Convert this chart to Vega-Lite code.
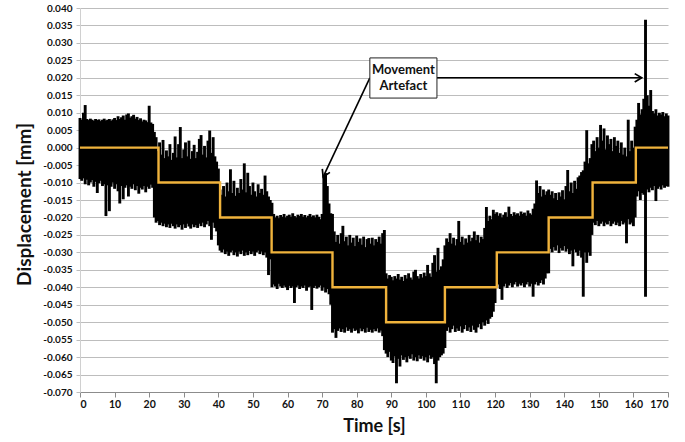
{
  "$schema": "https://vega.github.io/schema/vega-lite/v6.json",
  "width": 588,
  "height": 384,
  "autosize": {"type": "none"},
  "padding": {"left": 80, "top": 8, "right": 17, "bottom": 50},
  "background": "white",
  "config": {"view": {"stroke": null}, "font": "Lato"},
  "datasets": {
    "noise": [
      {"t":0,"v":-0.0090,"v2":0.0085},{"t":0.5,"v":-0.0095,"v2":0.0080},{"t":1,"v":-0.0088,"v2":0.0100},{"t":1.5,"v":-0.0105,"v2":0.0122},{"t":2,"v":-0.0092,"v2":0.0082},{"t":2.5,"v":-0.0108,"v2":0.0079},{"t":3,"v":-0.0100,"v2":0.0083},{"t":3.5,"v":-0.0093,"v2":0.0080},{"t":4,"v":-0.0112,"v2":0.0077},{"t":4.5,"v":-0.0098,"v2":0.0082},
      {"t":5,"v":-0.0130,"v2":0.0079},{"t":5.5,"v":-0.0102,"v2":0.0081},{"t":6,"v":-0.0095,"v2":0.0076},{"t":6.5,"v":-0.0110,"v2":0.0080},{"t":7,"v":-0.0105,"v2":0.0083},{"t":7.5,"v":-0.0196,"v2":0.0078},{"t":8,"v":-0.0108,"v2":0.0080},{"t":8.5,"v":-0.0182,"v2":0.0082},{"t":9,"v":-0.0112,"v2":0.0077},{"t":9.5,"v":-0.0100,"v2":0.0081},
      {"t":10,"v":-0.0118,"v2":0.0085},{"t":10.5,"v":-0.0105,"v2":0.0079},{"t":11,"v":-0.0125,"v2":0.0090},{"t":11.5,"v":-0.0160,"v2":0.0082},{"t":12,"v":-0.0110,"v2":0.0087},{"t":12.5,"v":-0.0148,"v2":0.0092},{"t":13,"v":-0.0115,"v2":0.0080},{"t":13.5,"v":-0.0108,"v2":0.0095},{"t":14,"v":-0.0140,"v2":0.0098},{"t":14.5,"v":-0.0112,"v2":0.0086},
      {"t":15,"v":-0.0118,"v2":0.0090},{"t":15.5,"v":-0.0105,"v2":0.0094},{"t":16,"v":-0.0122,"v2":0.0083},{"t":16.5,"v":-0.0110,"v2":0.0088},{"t":17,"v":-0.0132,"v2":0.0079},{"t":17.5,"v":-0.0115,"v2":0.0084},{"t":18,"v":-0.0120,"v2":0.0075},{"t":18.5,"v":-0.0110,"v2":0.0080},{"t":19,"v":-0.0128,"v2":0.0078},{"t":19.5,"v":-0.0112,"v2":0.0073},
      {"t":20,"v":-0.0118,"v2":0.0120},{"t":20.5,"v":-0.0106,"v2":0.0072},{"t":21,"v":-0.0115,"v2":0.0068},{"t":21.5,"v":-0.0200,"v2":0.0045},{"t":22,"v":-0.0215,"v2":0.0030},
      {"t":22.5,"v":-0.0210,"v2":-0.0010},{"t":23,"v":-0.0222,"v2":0.0015},{"t":23.5,"v":-0.0215,"v2":-0.0020},{"t":24,"v":-0.0225,"v2":0.0022},{"t":24.5,"v":-0.0218,"v2":-0.0030},{"t":25,"v":-0.0228,"v2":-0.0008},{"t":25.5,"v":-0.0220,"v2":-0.0025},{"t":26,"v":-0.0230,"v2":0.0010},{"t":26.5,"v":-0.0218,"v2":-0.0035},{"t":27,"v":-0.0225,"v2":-0.0015},
      {"t":27.5,"v":-0.0232,"v2":0.0032},{"t":28,"v":-0.0220,"v2":-0.0028},{"t":28.5,"v":-0.0228,"v2":0.0010},{"t":29,"v":-0.0222,"v2":0.0059},{"t":29.5,"v":-0.0235,"v2":-0.0030},{"t":30,"v":-0.0220,"v2":-0.0005},{"t":30.5,"v":-0.0230,"v2":0.0015},{"t":31,"v":-0.0218,"v2":-0.0025},{"t":31.5,"v":-0.0226,"v2":0.0020},{"t":32,"v":-0.0232,"v2":-0.0032},
      {"t":32.5,"v":-0.0220,"v2":-0.0010},{"t":33,"v":-0.0228,"v2":0.0008},{"t":33.5,"v":-0.0222,"v2":-0.0030},{"t":34,"v":-0.0230,"v2":-0.0012},{"t":34.5,"v":-0.0218,"v2":0.0025},{"t":35,"v":-0.0225,"v2":0.0036},{"t":35.5,"v":-0.0215,"v2":-0.0020},{"t":36,"v":-0.0228,"v2":0.0005},{"t":36.5,"v":-0.0220,"v2":-0.0028},{"t":37,"v":-0.0210,"v2":0.0020},
      {"t":37.5,"v":-0.0225,"v2":0.0049},{"t":38,"v":-0.0264,"v2":-0.0015},{"t":38.5,"v":-0.0215,"v2":0.0030},{"t":39,"v":-0.0230,"v2":-0.0025},{"t":39.5,"v":-0.0240,"v2":-0.0040},{"t":40,"v":-0.0280,"v2":-0.0060},
      {"t":40.5,"v":-0.0295,"v2":-0.0120},{"t":41,"v":-0.0300,"v2":-0.0135},{"t":41.5,"v":-0.0292,"v2":-0.0110},{"t":42,"v":-0.0305,"v2":-0.0140},{"t":42.5,"v":-0.0298,"v2":-0.0100},{"t":43,"v":-0.0310,"v2":-0.0125},{"t":43.5,"v":-0.0300,"v2":-0.0062},{"t":44,"v":-0.0295,"v2":-0.0130},{"t":44.5,"v":-0.0308,"v2":-0.0095},{"t":45,"v":-0.0300,"v2":-0.0138},
      {"t":45.5,"v":-0.0312,"v2":-0.0115},{"t":46,"v":-0.0298,"v2":-0.0130},{"t":46.5,"v":-0.0305,"v2":-0.0090},{"t":47,"v":-0.0295,"v2":-0.0120},{"t":47.5,"v":-0.0310,"v2":-0.0045},{"t":48,"v":-0.0300,"v2":-0.0128},{"t":48.5,"v":-0.0308,"v2":-0.0072},{"t":49,"v":-0.0296,"v2":-0.0110},{"t":49.5,"v":-0.0305,"v2":-0.0135},{"t":50,"v":-0.0298,"v2":-0.0100},
      {"t":50.5,"v":-0.0310,"v2":-0.0125},{"t":51,"v":-0.0300,"v2":-0.0140},{"t":51.5,"v":-0.0295,"v2":-0.0105},{"t":52,"v":-0.0305,"v2":-0.0130},{"t":52.5,"v":-0.0298,"v2":-0.0118},{"t":53,"v":-0.0308,"v2":-0.0135},{"t":53.5,"v":-0.0300,"v2":-0.0080},{"t":54,"v":-0.0315,"v2":-0.0125},{"t":54.5,"v":-0.0365,"v2":-0.0140},{"t":55,"v":-0.0320,"v2":-0.0150},
      {"t":55.5,"v":-0.0400,"v2":-0.0158},{"t":56,"v":-0.0392,"v2":-0.0190},{"t":56.5,"v":-0.0398,"v2":-0.0200},{"t":57,"v":-0.0405,"v2":-0.0195},{"t":57.5,"v":-0.0390,"v2":-0.0202},{"t":58,"v":-0.0398,"v2":-0.0193},{"t":58.5,"v":-0.0402,"v2":-0.0198},{"t":59,"v":-0.0395,"v2":-0.0190},{"t":59.5,"v":-0.0400,"v2":-0.0200},{"t":60,"v":-0.0408,"v2":-0.0195},
      {"t":60.5,"v":-0.0396,"v2":-0.0192},{"t":61,"v":-0.0402,"v2":-0.0198},{"t":61.5,"v":-0.0398,"v2":-0.0188},{"t":62,"v":-0.0445,"v2":-0.0196},{"t":62.5,"v":-0.0400,"v2":-0.0200},{"t":63,"v":-0.0395,"v2":-0.0192},{"t":63.5,"v":-0.0405,"v2":-0.0196},{"t":64,"v":-0.0398,"v2":-0.0190},{"t":64.5,"v":-0.0402,"v2":-0.0198},{"t":65,"v":-0.0395,"v2":-0.0193},
      {"t":65.5,"v":-0.0410,"v2":-0.0200},{"t":66,"v":-0.0400,"v2":-0.0195},{"t":66.5,"v":-0.0398,"v2":-0.0190},{"t":67,"v":-0.0465,"v2":-0.0198},{"t":67.5,"v":-0.0402,"v2":-0.0194},{"t":68,"v":-0.0396,"v2":-0.0200},{"t":68.5,"v":-0.0404,"v2":-0.0192},{"t":69,"v":-0.0400,"v2":-0.0198},{"t":69.5,"v":-0.0395,"v2":-0.0205},{"t":70,"v":-0.0410,"v2":-0.0190},
      {"t":70.5,"v":-0.0400,"v2":-0.0078},{"t":71,"v":-0.0415,"v2":-0.0073},{"t":71.5,"v":-0.0405,"v2":-0.0110},{"t":72,"v":-0.0420,"v2":-0.0160},{"t":72.5,"v":-0.0450,"v2":-0.0188},
      {"t":73,"v":-0.0530,"v2":-0.0190},{"t":73.5,"v":-0.0520,"v2":-0.0240},{"t":74,"v":-0.0545,"v2":-0.0270},{"t":74.5,"v":-0.0525,"v2":-0.0250},{"t":75,"v":-0.0518,"v2":-0.0275},{"t":75.5,"v":-0.0528,"v2":-0.0245},{"t":76,"v":-0.0520,"v2":-0.0224},{"t":76.5,"v":-0.0530,"v2":-0.0268},{"t":77,"v":-0.0515,"v2":-0.0255},{"t":77.5,"v":-0.0525,"v2":-0.0280},
      {"t":78,"v":-0.0520,"v2":-0.0250},{"t":78.5,"v":-0.0530,"v2":-0.0272},{"t":79,"v":-0.0518,"v2":-0.0258},{"t":79.5,"v":-0.0525,"v2":-0.0282},{"t":80,"v":-0.0522,"v2":-0.0252},{"t":80.5,"v":-0.0532,"v2":-0.0270},{"t":81,"v":-0.0518,"v2":-0.0260},{"t":81.5,"v":-0.0526,"v2":-0.0278},{"t":82,"v":-0.0520,"v2":-0.0255},{"t":82.5,"v":-0.0530,"v2":-0.0285},
      {"t":83,"v":-0.0516,"v2":-0.0262},{"t":83.5,"v":-0.0528,"v2":-0.0259},{"t":84,"v":-0.0522,"v2":-0.0275},{"t":84.5,"v":-0.0530,"v2":-0.0258},{"t":85,"v":-0.0520,"v2":-0.0280},{"t":85.5,"v":-0.0526,"v2":-0.0262},{"t":86,"v":-0.0518,"v2":-0.0270},{"t":86.5,"v":-0.0530,"v2":-0.0255},{"t":87,"v":-0.0524,"v2":-0.0275},{"t":87.5,"v":-0.0540,"v2":-0.0245},
      {"t":88,"v":-0.0580,"v2":-0.0236},
      {"t":88.5,"v":-0.0590,"v2":-0.0360},{"t":89,"v":-0.0600,"v2":-0.0375},{"t":89.5,"v":-0.0585,"v2":-0.0365},{"t":90,"v":-0.0610,"v2":-0.0370},{"t":90.5,"v":-0.0617,"v2":-0.0380},{"t":91,"v":-0.0598,"v2":-0.0368},{"t":91.5,"v":-0.0675,"v2":-0.0375},{"t":92,"v":-0.0605,"v2":-0.0362},{"t":92.5,"v":-0.0627,"v2":-0.0378},{"t":93,"v":-0.0595,"v2":-0.0370},
      {"t":93.5,"v":-0.0608,"v2":-0.0382},{"t":94,"v":-0.0600,"v2":-0.0365},{"t":94.5,"v":-0.0615,"v2":-0.0375},{"t":95,"v":-0.0598,"v2":-0.0360},{"t":95.5,"v":-0.0605,"v2":-0.0372},{"t":96,"v":-0.0592,"v2":-0.0378},{"t":96.5,"v":-0.0610,"v2":-0.0355},{"t":97,"v":-0.0600,"v2":-0.0350},{"t":97.5,"v":-0.0612,"v2":-0.0368},{"t":98,"v":-0.0595,"v2":-0.0375},
      {"t":98.5,"v":-0.0605,"v2":-0.0362},{"t":99,"v":-0.0598,"v2":-0.0372},{"t":99.5,"v":-0.0610,"v2":-0.0358},{"t":100,"v":-0.0600,"v2":-0.0368},{"t":100.5,"v":-0.0615,"v2":-0.0336},{"t":101,"v":-0.0595,"v2":-0.0360},{"t":101.5,"v":-0.0605,"v2":-0.0370},{"t":102,"v":-0.0600,"v2":-0.0330},{"t":102.5,"v":-0.0620,"v2":-0.0308},{"t":103,"v":-0.0675,"v2":-0.0355},
      {"t":103.5,"v":-0.0610,"v2":-0.0287},{"t":104,"v":-0.0600,"v2":-0.0350},{"t":104.5,"v":-0.0595,"v2":-0.0340},{"t":105,"v":-0.0590,"v2":-0.0320},{"t":105.5,"v":-0.0574,"v2":-0.0280},
      {"t":106,"v":-0.0525,"v2":-0.0260},{"t":106.5,"v":-0.0515,"v2":-0.0270},{"t":107,"v":-0.0530,"v2":-0.0245},{"t":107.5,"v":-0.0520,"v2":-0.0275},{"t":108,"v":-0.0510,"v2":-0.0258},{"t":108.5,"v":-0.0528,"v2":-0.0280},{"t":109,"v":-0.0518,"v2":-0.0262},{"t":109.5,"v":-0.0525,"v2":-0.0210},{"t":110,"v":-0.0512,"v2":-0.0270},{"t":110.5,"v":-0.0530,"v2":-0.0255},
      {"t":111,"v":-0.0520,"v2":-0.0278},{"t":111.5,"v":-0.0508,"v2":-0.0260},{"t":112,"v":-0.0525,"v2":-0.0272},{"t":112.5,"v":-0.0515,"v2":-0.0250},{"t":113,"v":-0.0528,"v2":-0.0268},{"t":113.5,"v":-0.0510,"v2":-0.0258},{"t":114,"v":-0.0522,"v2":-0.0240},{"t":114.5,"v":-0.0530,"v2":-0.0265},{"t":115,"v":-0.0515,"v2":-0.0250},{"t":115.5,"v":-0.0505,"v2":-0.0272},
      {"t":116,"v":-0.0520,"v2":-0.0255},{"t":116.5,"v":-0.0500,"v2":-0.0262},{"t":117,"v":-0.0510,"v2":-0.0230},{"t":117.5,"v":-0.0495,"v2":-0.0170},{"t":118,"v":-0.0505,"v2":-0.0210},{"t":118.5,"v":-0.0490,"v2":-0.0195},{"t":119,"v":-0.0485,"v2":-0.0205},{"t":119.5,"v":-0.0470,"v2":-0.0178},{"t":120,"v":-0.0445,"v2":-0.0190},
      {"t":120.5,"v":-0.0400,"v2":-0.0185},{"t":121,"v":-0.0392,"v2":-0.0195},{"t":121.5,"v":-0.0405,"v2":-0.0188},{"t":122,"v":-0.0436,"v2":-0.0200},{"t":122.5,"v":-0.0398,"v2":-0.0192},{"t":123,"v":-0.0390,"v2":-0.0185},{"t":123.5,"v":-0.0402,"v2":-0.0198},{"t":124,"v":-0.0395,"v2":-0.0169},{"t":124.5,"v":-0.0388,"v2":-0.0190},{"t":125,"v":-0.0400,"v2":-0.0196},
      {"t":125.5,"v":-0.0392,"v2":-0.0185},{"t":126,"v":-0.0385,"v2":-0.0192},{"t":126.5,"v":-0.0398,"v2":-0.0188},{"t":127,"v":-0.0390,"v2":-0.0195},{"t":127.5,"v":-0.0395,"v2":-0.0183},{"t":128,"v":-0.0388,"v2":-0.0190},{"t":128.5,"v":-0.0400,"v2":-0.0186},{"t":129,"v":-0.0392,"v2":-0.0195},{"t":129.5,"v":-0.0385,"v2":-0.0180},{"t":130,"v":-0.0398,"v2":-0.0188},
      {"t":130.5,"v":-0.0390,"v2":-0.0192},{"t":131,"v":-0.0427,"v2":-0.0175},{"t":131.5,"v":-0.0392,"v2":-0.0160},{"t":132,"v":-0.0385,"v2":-0.0094},{"t":132.5,"v":-0.0395,"v2":-0.0130},{"t":133,"v":-0.0388,"v2":-0.0110},{"t":133.5,"v":-0.0380,"v2":-0.0140},{"t":134,"v":-0.0392,"v2":-0.0120},{"t":134.5,"v":-0.0375,"v2":-0.0135},{"t":135,"v":-0.0360,"v2":-0.0125},
      {"t":135.5,"v":-0.0360,"v2":-0.0120},{"t":136,"v":-0.0290,"v2":-0.0135},{"t":136.5,"v":-0.0300,"v2":-0.0125},{"t":137,"v":-0.0285,"v2":-0.0145},{"t":137.5,"v":-0.0295,"v2":-0.0130},{"t":138,"v":-0.0280,"v2":-0.0150},{"t":138.5,"v":-0.0302,"v2":-0.0128},{"t":139,"v":-0.0288,"v2":-0.0140},{"t":139.5,"v":-0.0295,"v2":-0.0122},{"t":140,"v":-0.0282,"v2":-0.0148},
      {"t":140.5,"v":-0.0298,"v2":-0.0110},{"t":141,"v":-0.0290,"v2":-0.0064},{"t":141.5,"v":-0.0305,"v2":-0.0125},{"t":142,"v":-0.0295,"v2":-0.0100},{"t":142.5,"v":-0.0340,"v2":-0.0130},{"t":143,"v":-0.0292,"v2":-0.0095},{"t":143.5,"v":-0.0300,"v2":-0.0118},{"t":144,"v":-0.0310,"v2":-0.0085},{"t":144.5,"v":-0.0295,"v2":-0.0080},{"t":145,"v":-0.0315,"v2":-0.0070},
      {"t":145.5,"v":-0.0427,"v2":-0.0065},{"t":146,"v":-0.0300,"v2":-0.0040},{"t":146.5,"v":-0.0330,"v2":0.0050},{"t":147,"v":-0.0300,"v2":-0.0045},{"t":147.5,"v":-0.0310,"v2":-0.0030},{"t":148,"v":-0.0250,"v2":0.0010},
      {"t":148.5,"v":-0.0215,"v2":0.0020},{"t":149,"v":-0.0222,"v2":-0.0010},{"t":149.5,"v":-0.0210,"v2":0.0030},{"t":150,"v":-0.0225,"v2":0.0000},{"t":150.5,"v":-0.0218,"v2":0.0065},{"t":151,"v":-0.0212,"v2":0.0020},{"t":151.5,"v":-0.0225,"v2":0.0055},{"t":152,"v":-0.0215,"v2":-0.0005},{"t":152.5,"v":-0.0220,"v2":0.0035},{"t":153,"v":-0.0210,"v2":0.0010},
      {"t":153.5,"v":-0.0225,"v2":0.0025},{"t":154,"v":-0.0218,"v2":-0.0010},{"t":154.5,"v":-0.0212,"v2":0.0030},{"t":155,"v":-0.0222,"v2":0.0005},{"t":155.5,"v":-0.0215,"v2":0.0020},{"t":156,"v":-0.0225,"v2":-0.0015},{"t":156.5,"v":-0.0210,"v2":0.0015},{"t":157,"v":-0.0220,"v2":-0.0020},{"t":157.5,"v":-0.0215,"v2":0.0000},{"t":158,"v":-0.0274,"v2":-0.0025},
      {"t":158.5,"v":-0.0205,"v2":0.0080},{"t":159,"v":-0.0220,"v2":-0.0010},{"t":159.5,"v":-0.0215,"v2":0.0020},{"t":160,"v":-0.0225,"v2":0.0000},{"t":160.5,"v":-0.0200,"v2":0.0060},
      {"t":161,"v":-0.0140,"v2":0.0080},{"t":161.5,"v":-0.0125,"v2":0.0128},{"t":162,"v":-0.0150,"v2":0.0095},{"t":162.5,"v":-0.0130,"v2":0.0110},{"t":163,"v":-0.0135,"v2":0.0140},{"t":163.5,"v":-0.0427,"v2":0.0366},{"t":164,"v":-0.0120,"v2":0.0150},{"t":164.5,"v":-0.0128,"v2":0.0120},{"t":165,"v":-0.0115,"v2":0.0165},{"t":165.5,"v":-0.0122,"v2":0.0105},
      {"t":166,"v":-0.0110,"v2":0.0098},{"t":166.5,"v":-0.0153,"v2":0.0110},{"t":167,"v":-0.0118,"v2":0.0092},{"t":167.5,"v":-0.0112,"v2":0.0100},{"t":168,"v":-0.0120,"v2":0.0095},{"t":168.5,"v":-0.0108,"v2":0.0102},{"t":169,"v":-0.0115,"v2":0.0090},{"t":169.5,"v":-0.0110,"v2":0.0098},{"t":170,"v":-0.0112,"v2":0.0092}
    ],
    "steps": [
      {"t":0,"v":0},{"t":22.7,"v":-0.01},{"t":40.5,"v":-0.02},{"t":55.4,"v":-0.03},{"t":73,"v":-0.04},{"t":88.5,"v":-0.05},{"t":105.5,"v":-0.04},{"t":120.5,"v":-0.03},{"t":135.5,"v":-0.02},{"t":148.2,"v":-0.01},{"t":160.7,"v":0},{"t":170,"v":0}
    ],
    "box": [{"t":83.8,"t2":103.2,"v":0.0257,"v2":0.0142}],
    "boxText": [{"t":93.5,"v":0.0223,"label":"Movement"},{"t":93.5,"v":0.0177,"label":"Artefact"}],
    "arrows": [{"t":83.8,"v":0.0200,"t2":70.3,"v2":-0.0084},{"t":103.2,"v":0.0200,"t2":162.4,"v2":0.0200}],
    "head1": [{"t":70.3,"v":-0.0084}],
    "head2": [{"t":162.4,"v":0.0200}]
  },
  "encoding": {
    "x": {"field": "t", "type": "quantitative",
          "scale": {"domain": [0, 170], "nice": false, "zero": false},
          "axis": {"values": [0,10,20,30,40,50,60,70,80,90,100,110,120,130,140,150,160,170],
                   "format": "d", "grid": false, "title": "Time [s]", "labelOverlap": false,
                   "labelFont": "Lato", "labelFontWeight": "bold", "labelFontSize": 10.5, "labelColor": "#111",
                   "labelPadding": 2, "tickSize": 5, "tickColor": "#8c8c8c", "domainColor": "#8c8c8c",
                   "titleFont": "Lato", "titleFontWeight": "bold", "titleFontSize": 18, "titleColor": "#111",
                   "titleY": 34, "titleBaseline": "middle"}},
    "y": {"field": "v", "type": "quantitative",
          "scale": {"domain": [-0.07, 0.04], "nice": false, "zero": false},
          "axis": {"values": [-0.07,-0.065,-0.06,-0.055,-0.05,-0.045,-0.04,-0.035,-0.03,-0.025,-0.02,-0.015,-0.01,-0.005,0,0.005,0.01,0.015,0.02,0.025,0.03,0.035,0.04],
                   "labelExpr": "(datum.value < -0.0001 ? '-' : '') + format(abs(datum.value), '.3f')",
                   "labelOverlap": false,
                   "grid": true, "gridColor": "#bdbdbd", "gridWidth": 1,
                   "labelFont": "Lato", "labelFontWeight": "bold", "labelFontSize": 10, "labelColor": "#111",
                   "labelPadding": 4, "tickSize": 4, "tickColor": "#bdbdbd", "domainColor": "#d0d0d0",
                   "title": "Displacement [mm]",
                   "titleFont": "Lato", "titleFontWeight": "bold", "titleFontSize": 19, "titleColor": "#111",
                   "titleX": -56, "titleY": 196, "titleBaseline": "middle", "titleAngle": -90}}
  },
  "layer": [
    {
      "data": {"name": "noise"},
      "mark": {"type": "rule", "color": "black", "strokeWidth": 2.9},
      "encoding": {"y2": {"field": "v2"}}
    },
    {
      "data": {"name": "steps"},
      "mark": {"type": "line", "color": "#F0B33C", "strokeWidth": 2.4, "interpolate": "step-after"},
      "encoding": {}
    },
    {
      "data": {"name": "arrows"},
      "mark": {"type": "rule", "color": "black", "strokeWidth": 1.6},
      "encoding": {"x2": {"field": "t2"}, "y2": {"field": "v2"}}
    },
    {
      "data": {"name": "head1"},
      "mark": {"type": "point", "shape": "M-2,-1.2L0,0L-2,1.2", "filled": false, "stroke": "black", "strokeWidth": 1.7, "size": 49, "angle": 115, "opacity": 1},
      "encoding": {}
    },
    {
      "data": {"name": "head2"},
      "mark": {"type": "point", "shape": "M-2,-1.2L0,0L-2,1.2", "filled": false, "stroke": "black", "strokeWidth": 1.7, "size": 49, "angle": 0, "opacity": 1},
      "encoding": {}
    },
    {
      "data": {"name": "box"},
      "mark": {"type": "rect", "fill": "white", "stroke": "#222", "strokeWidth": 1},
      "encoding": {"x2": {"field": "t2"}, "y2": {"field": "v2"}}
    },
    {
      "data": {"name": "boxText"},
      "mark": {"type": "text", "font": "Lato", "fontWeight": "bold", "fontSize": 13, "color": "#111", "align": "center", "baseline": "middle"},
      "encoding": {"text": {"field": "label"}}
    }
  ]
}
